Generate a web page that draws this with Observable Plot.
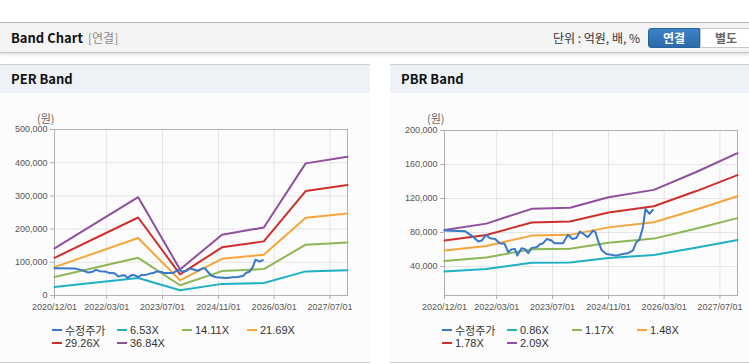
<!DOCTYPE html>
<html><head><meta charset="utf-8">
<script src="https://cdn.jsdelivr.net/npm/d3@7"></script>
<script src="https://cdn.jsdelivr.net/npm/@observablehq/plot@0.6"></script>
<style>
html,body{margin:0;padding:0;}
body{width:749px;height:364px;overflow:hidden;position:relative;background:#fff;font-family:"Noto Sans CJK KR","Noto Sans",sans-serif;}
.topline{position:absolute;left:0;top:22px;width:749px;height:1px;background:#b9b9b9;}
.hdr{position:absolute;left:0;top:23px;width:749px;height:29px;background:#f4f4f4;border-bottom:1px solid #c6c6c6;box-shadow:0 2px 3px rgba(0,0,0,0.12);}
.hdr .title{position:absolute;left:11px;top:0;line-height:29px;font-size:13px;font-weight:bold;color:#111;}
.hdr .sub{position:absolute;left:88px;top:0;line-height:29px;font-size:12px;color:#8a8a8a;}
.hdr .unit{position:absolute;left:553px;top:0;line-height:29px;font-size:12px;color:#333;}
.btn{position:absolute;top:5px;height:20px;line-height:18px;font-size:12px;font-weight:bold;text-align:center;box-sizing:border-box;}
.btn.on{left:648px;width:52px;background:linear-gradient(#3d82c8,#2d6aab);color:#fff;border:1px solid #2a62a0;border-radius:3px 0 0 3px;}
.btn.off{left:700px;width:52px;background:#fff;color:#666;border:1px solid #c8c8c8;}
.panel{position:absolute;top:64px;width:370px;height:297px;border-top:1px solid #cfcfcf;border-bottom:1px solid #cfcfcf;background:#fcfcfc;}
.panel .ph{height:28px;background:#eef2f7;font-size:13px;font-weight:bold;line-height:28px;padding-left:11px;color:#111;}
.panel .chart{position:absolute;left:0;top:35px;}
.panel .ylab{position:absolute;left:37px;top:46px;font-size:11px;line-height:14px;color:#666;}
.legend{position:absolute;left:52px;top:258px;display:grid;grid-template-columns:65px 65px 65px 65px;grid-auto-rows:13px;font-family:"Liberation Sans",Arial,"Noto Sans CJK KR",sans-serif;font-size:11px;color:#333;}
.legend .it{display:flex;align-items:center;white-space:nowrap;}
.legend .sw{width:10px;height:2px;margin-right:3px;}
</style>
</head><body>
<div class="topline"></div>
<div class="hdr">
  <div class="title">Band Chart</div>
  <div class="sub">[연결]</div>
  <div class="unit">단위 : 억원, 배, %</div>
  <div class="btn on">연결</div>
  <div class="btn off">별도</div>
</div>
<div class="panel" id="perPanel" style="left:0;">
  <div class="ph">PER Band</div>
  <div class="ylab">(원)</div>
  <div class="chart" id="perChart"></div>
  <div class="legend" id="perLegend"></div>
</div>
<div class="panel" id="pbrPanel" style="left:390px;">
  <div class="ph">PBR Band</div>
  <div class="ylab">(원)</div>
  <div class="chart" id="pbrChart"></div>
  <div class="legend" id="pbrLegend"></div>
</div>
<script>
// ---- tick labels ----
const xTickDates = ["2020-12-01","2022-03-01","2023-07-01","2024-11-01","2026-03-01","2027-07-01"];
const xDomainDates = ["2020-12-01","2027-12-01"];
const perYTicks = [0,100000,200000,300000,400000,500000];
const pbrYTicks = [40000,80000,120000,160000,200000];

// ---- adjusted price (수정주가) ----
const priceDates = ["2020-12-01","2021-05-28","2021-07-25","2021-09-22","2021-10-22","2021-11-28","2022-01-01","2022-02-15","2022-03-28","2022-05-10","2022-06-10","2022-07-07","2022-08-07","2022-08-28","2022-10-04","2022-11-01","2022-12-01","2023-01-01","2023-02-13","2023-03-10","2023-04-10","2023-05-13","2023-06-22","2023-07-19","2023-10-01","2023-11-13","2023-12-22","2024-01-25","2024-02-25","2024-03-28","2024-05-04","2024-06-19","2024-07-10","2024-08-01","2024-09-01","2024-10-13","2025-01-07","2025-03-04","2025-04-19","2025-06-01","2025-07-01","2025-07-28","2025-08-28","2025-09-19","2025-10-25","2025-11-22"];
const priceValues = [82400,81600,76500,69400,70600,77300,73300,72500,67500,66700,56900,60000,60800,53000,61600,60800,55700,62000,62700,65900,67500,72500,70600,67500,67500,77300,72500,73700,81200,78400,74500,82400,80400,70600,59600,54900,52900,54900,55700,58800,68600,71400,86300,107900,102000,106700];

// ---- PER band ----
const perBandDates = ["2020-12-01","2022-12-01","2023-12-01","2024-12-01","2025-12-01","2026-12-01","2027-12-01"];
const perLabels = ["6.53X","14.11X","21.69X","29.26X","36.84X"];
const per653  = [25800,52600,15800,35000,37500,72600,76000];
const per1411 = [55700,113500,30800,73500,79500,153000,160000];
const per2169 = [85500,173000,45700,110500,122500,234000,247000];
const per2926 = [113500,235000,63600,145000,163000,314600,332500];
const per3684 = [142000,296000,78600,183000,205000,398000,418000];

// ---- PBR band ----
const pbrBandDates = ["2020-12-01","2021-12-01","2023-01-01","2023-12-01","2024-11-01","2025-12-01","2026-12-01","2027-12-01"];
const pbrLabels = ["0.86X","1.17X","1.48X","1.78X","2.09X"];
const pbr086 = [34200,37200,44400,44900,50000,53600,62100,71300];
const pbr117 = [46500,50700,60400,61100,68100,72900,84500,97000];
const pbr148 = [58800,64100,76400,77300,86100,92200,106900,122700];
const pbr178 = [70800,77100,91900,93000,103600,110900,128500,147600];
const pbr209 = [83100,90500,107900,109200,121600,130200,150900,173300];

const priceLabel = "수정주가";
const bandColors = ["#1fb0c6","#8db654","#f5a53a","#cf2f2a","#8f4f9c"];
const priceColor = "#3877c9";

const parse = d3.utcParse("%Y-%m-%d");
const rows = (dates, vals) => dates.map((d,i)=>({date:parse(d), value:vals[i]}));
const priceRows = rows(priceDates, priceValues);

function chart(bands, yDomain, yTicks, marginTop) {
  const xTicks = xTickDates.map(parse);
  return Plot.plot({
    width: 370, height: 215,
    marginLeft: 54, marginRight: 23, marginTop, marginBottom: 20,
    style: {background: "transparent", fontFamily: "'Liberation Sans', Arial, sans-serif", fontSize: "9px", overflow: "visible"},
    x: {type: "utc", domain: xDomainDates.map(parse)},
    y: {domain: yDomain},
    marks: [
      Plot.gridX(xTicks, {stroke: "#e4e4e4", strokeOpacity: 1}),
      Plot.gridY(yTicks, {stroke: "#e4e4e4", strokeOpacity: 1}),
      Plot.frame({stroke: "#b0b0b0"}),
      Plot.axisX(xTicks, {tickSize: 4, tickPadding: 4, tickFormat: d3.utcFormat("%Y/%m/%d"), stroke: "#b0b0b0", fill: "#555", label: null}),
      Plot.axisY(yTicks, {tickSize: 4, tickPadding: 3, tickFormat: d3.format(","), stroke: "#b0b0b0", fill: "#555", label: null}),
      ...bands.map((b,i) => Plot.line(b, {x: "date", y: "value", stroke: bandColors[i], strokeWidth: 2})),
      Plot.line(priceRows, {x: "date", y: "value", stroke: priceColor, strokeWidth: 2})
    ]
  });
}

function legend(el, labels) {
  const items = [[priceLabel, priceColor], ...labels.map((l,i)=>[l, bandColors[i]])];
  for (const [t,c] of items) {
    const it = document.createElement("div"); it.className = "it";
    const sw = document.createElement("span"); sw.className = "sw"; sw.style.background = c;
    const tx = document.createElement("span"); tx.textContent = t;
    it.append(sw, tx); el.append(it);
  }
}

const perBands = [per653, per1411, per2169, per2926, per3684].map(v => rows(perBandDates, v));
const pbrBands = [pbr086, pbr117, pbr148, pbr178, pbr209].map(v => rows(pbrBandDates, v));

document.getElementById("perChart").append(chart(perBands, [0, 500000], perYTicks, 29));
document.getElementById("pbrChart").append(chart(pbrBands, [6000, 200000], pbrYTicks, 30));
legend(document.getElementById("perLegend"), perLabels);
legend(document.getElementById("pbrLegend"), pbrLabels);
</script>
</body></html>
